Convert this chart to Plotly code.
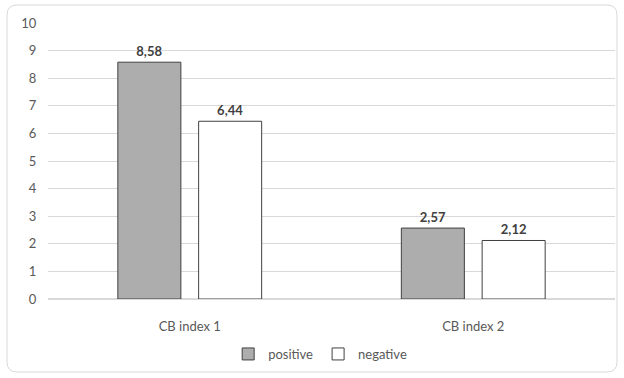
import plotly.graph_objects as go

categories = ["CB index 1", "CB index 2"]
positive = [8.58, 2.57]
negative = [6.44, 2.12]
y_ticks = list(range(0, 11))

text_color = "#595959"
label_color = "#404040"
grid_color = "#D9D9D9"

fig = go.Figure()
fig.add_trace(go.Bar(
    name="positive", x=categories, y=positive,
    marker=dict(color="#ADADAD", line=dict(color="#404040", width=1)),
    texttemplate="%{y:.2f}", textposition="outside",
    textfont=dict(family="Lato", size=13, color=label_color, weight="bold"),
    cliponaxis=False,
))
fig.add_trace(go.Bar(
    name="negative", x=categories, y=negative,
    marker=dict(color="#FFFFFF", line=dict(color="#404040", width=1)),
    texttemplate="%{y:.2f}", textposition="outside",
    textfont=dict(family="Lato", size=13, color=label_color, weight="bold"),
    cliponaxis=False,
))

# plot-area geometry in pixels, used for the rounded frame
L, R, T, B = 48, 9, 23, 79
W, H = 624, 378
pw, ph = W - L - R, H - T - B

def px_x(p):
    return (p - L) / pw

def px_y(p):
    return 1 - (p - T) / ph

x0, x1 = px_x(7), px_x(617)
y0, y1 = px_y(372), px_y(5)
rx, ry = 10 / pw, 10 / ph
frame = (
    f"M {x0 + rx} {y1} L {x1 - rx} {y1} Q {x1} {y1} {x1} {y1 - ry} "
    f"L {x1} {y0 + ry} Q {x1} {y0} {x1 - rx} {y0} "
    f"L {x0 + rx} {y0} Q {x0} {y0} {x0} {y0 + ry} "
    f"L {x0} {y1 - ry} Q {x0} {y1} {x0 + rx} {y1} Z"
)

fig.update_layout(
    width=W, height=H,
    margin=dict(l=L, r=R, t=T, b=B),
    paper_bgcolor="white", plot_bgcolor="white",
    separators=", ",
    barmode="group", bargap=0.43, bargroupgap=0.22,
    font=dict(family="Lato", size=13, color=text_color),
    showlegend=True,
    legend=dict(orientation="h", x=0.48, xanchor="center", y=px_y(354), yanchor="middle",
                font=dict(size=13, color=text_color), itemwidth=30,
                traceorder="normal"),
    shapes=[dict(type="path", path=frame, xref="paper", yref="paper",
                 line=dict(color=grid_color, width=1), layer="below")],
    xaxis=dict(showgrid=False, showline=False, ticks="", ticklabelstandoff=18,
               tickfont=dict(size=13, color=text_color)),
    yaxis=dict(range=[0, 10], tickvals=y_ticks, showgrid=True, gridcolor=grid_color,
               gridwidth=1, zeroline=True, zerolinecolor=grid_color, showline=False,
               ticks="outside", ticklen=8, tickcolor="rgba(0,0,0,0)",
               tickfont=dict(size=13, color=text_color)),
)

fig.write_html("out.html")
